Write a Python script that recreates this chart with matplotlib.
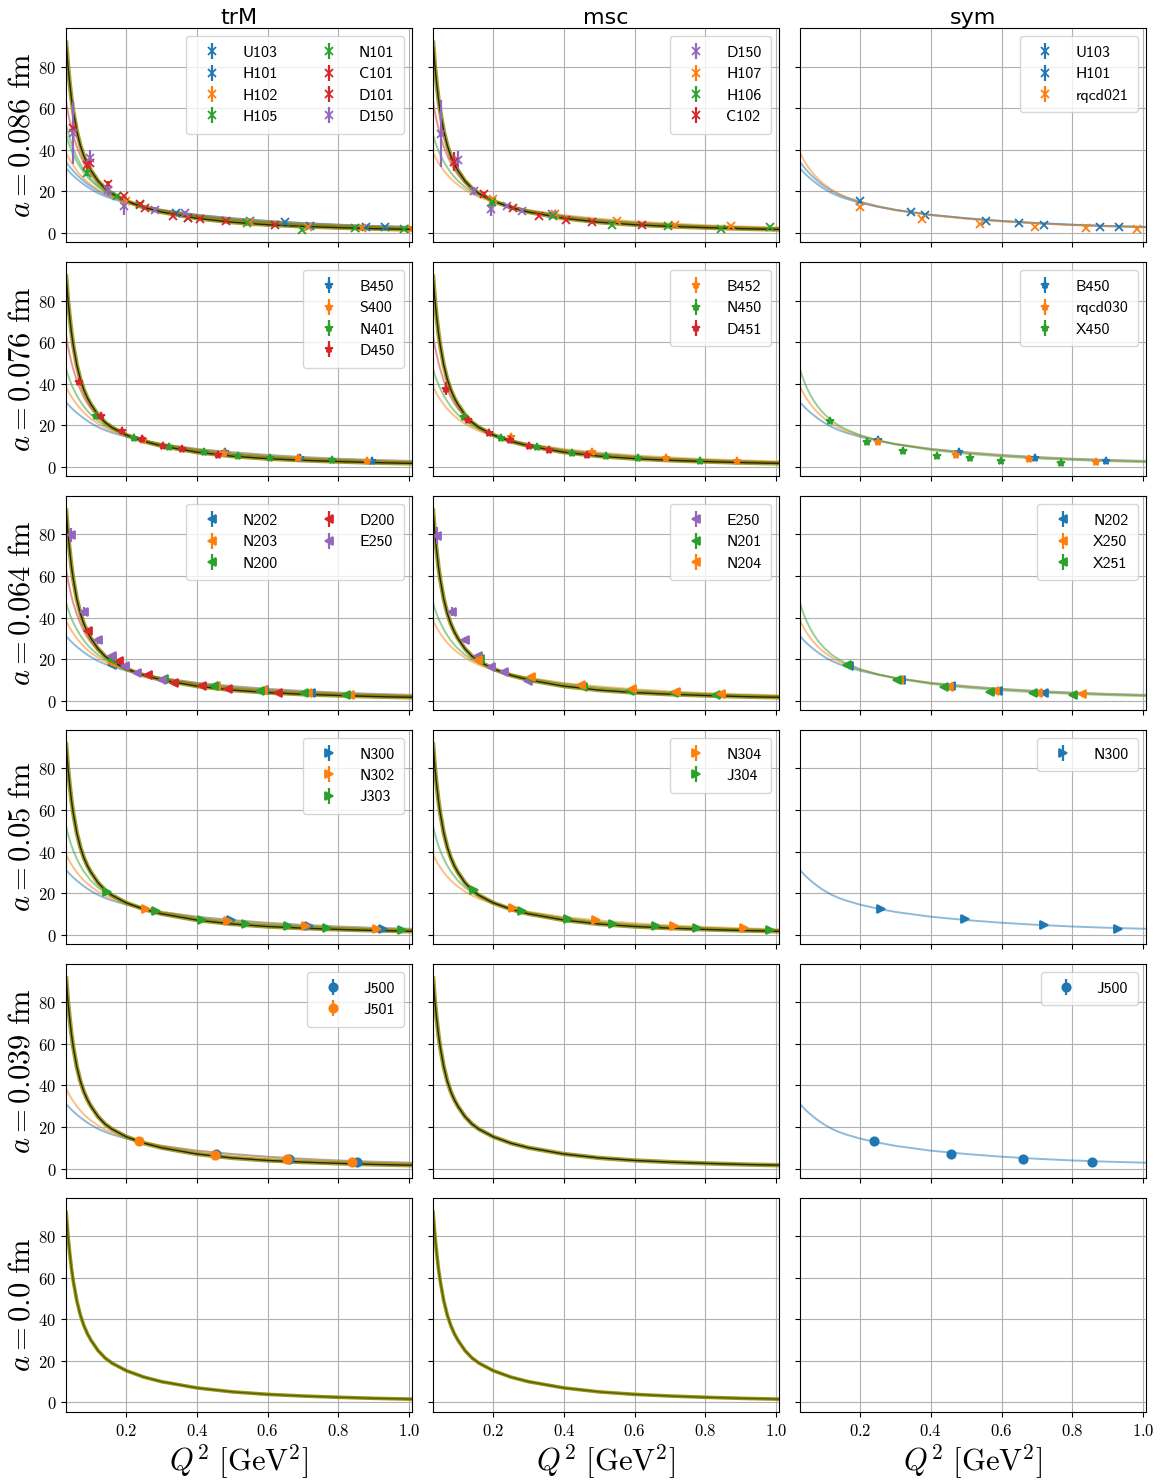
import numpy as np
import matplotlib.pyplot as plt
from matplotlib.ticker import FuncFormatter

plt.rcParams['mathtext.fontset'] = 'cm'

q2_grid = [0.03, 0.035, 0.04, 0.045, 0.05, 0.06, 0.07, 0.08, 0.09, 0.10, 0.12, 0.14, 0.16,
           0.20, 0.25, 0.30, 0.40, 0.50, 0.60, 0.70, 0.80, 0.90, 1.01]

# continuum curve (thick)
c_cont = [91.5, 80.5, 72, 64.5, 58.5, 49, 42.1, 37, 33.1, 30, 25, 21.4, 18.9,
          15.3, 12.2, 10.0, 7.0, 5.1, 3.9, 3.1, 2.5, 2.0, 1.6]
# per ensemble fit curves (thin)
c_b31 = [31, 30.1, 29.2, 28.3, 27.5, 26.0, 24.6, 23.3, 22.1, 21.0, 19.1, 17.6, 16.4,
         14.4, 12.5, 10.9, 8.6, 7.0, 5.7, 4.7, 3.9, 3.3, 2.8]
c_b34 = [34, 32.9, 31.8, 30.8, 29.8, 28.0, 26.4, 24.9, 23.5, 22.3, 20.2, 18.5, 17.1,
         14.9, 12.8, 11.1, 8.7, 7.0, 5.7, 4.7, 3.9, 3.3, 2.8]
c_o38 = [38.5, 36.8, 35.2, 33.7, 32.4, 30.0, 27.9, 26.1, 24.5, 23.1, 20.7, 18.8, 17.2,
         14.9, 12.7, 11.0, 8.5, 6.8, 5.5, 4.5, 3.7, 3.1, 2.6]
c_g46 = [47, 44.2, 41.8, 39.6, 37.7, 34.3, 31.5, 29.0, 26.9, 25.1, 22.1, 19.8, 18.0,
         15.2, 12.7, 10.8, 8.1, 6.3, 5.0, 4.0, 3.3, 2.7, 2.2]
c_g52 = [52, 48.5, 45.5, 42.8, 40.5, 36.5, 33.2, 30.4, 28.1, 26.0, 22.7, 20.2, 18.2,
         15.2, 12.6, 10.6, 7.9, 6.1, 4.8, 3.9, 3.2, 2.6, 2.1]
c_r63 = [63, 58, 54, 50.2, 47, 41.5, 37.2, 33.5, 30.5, 28.0, 24.0, 21.0, 18.7,
         15.4, 12.6, 10.5, 7.7, 5.9, 4.6, 3.7, 3.0, 2.5, 2.0]

spacings = ['0.086', '0.076', '0.064', '0.05', '0.039', '0.0']
actions = ['trM', 'msc', 'sym']
row_markers = ['x', '*', '<', '>', 'o', 'o']

B, O, G, R, P = 'tab:blue', 'tab:orange', 'tab:green', 'tab:red', 'tab:purple'

# ensembles: name, colour, Q^2, value, error
trm_086 = [
    ('U103', B, [0.341, 0.649, 0.932], [9.6, 5.1, 2.9], [0.5, 0.5, 0.4]),
    ('H101', B, [0.551, 0.72, 0.878], [5.6, 3.5, 2.9], [0.5, 0.5, 0.4]),
    ('H102', O, [0.2, 0.55, 0.715, 0.866, 1.007], [15.5, 5.2, 2.9, 2.4, 1.9], [1.0, 0.5, 0.5, 0.4, 0.4]),
    ('H105', G, [0.089, 0.173, 0.375, 0.54, 0.847], [29, 17.6, 7.2, 4.8, 2.4], [1.5, 0.8, 0.6, 0.5, 0.4]),
    ('N101', G, [0.238, 0.696, 0.984], [13.5, 1.6, 1.9], [0.6, 0.8, 0.4]),
    ('C101', R, [0.089, 0.147, 0.238, 0.375, 0.62], [32.8, 23.5, 14.1, 7.0, 4.0], [2.0, 1.5, 0.6, 0.5, 0.4]),
    ('D101', R, [0.049, 0.098, 0.194, 0.254, 0.332, 0.408, 0.483],
     [50.4, 33.6, 17.6, 12.0, 8.0, 6.9, 5.6], [3.0, 2.0, 0.8, 0.6, 0.5, 0.5, 0.4]),
    ('D150', P, [0.05, 0.097, 0.147, 0.194, 0.28, 0.365],
     [48, 36, 20.5, 12.8, 11.2, 9.4], [15, 4, 3, 4, 1, 1]),
]
msc_086 = [
    ('D150', P, [0.052, 0.1, 0.147, 0.195, 0.24, 0.282, 0.365],
     [47.8, 35, 20, 11.5, 12.8, 10.4, 9.1], [16, 4.5, 2, 3.5, 1, 1, 1]),
    ('H107', O, [0.2, 0.374, 0.551, 0.715, 0.873], [16.4, 9.1, 5.9, 4.0, 3.2], [0.8, 0.5, 0.5, 0.4, 0.4]),
    ('H106', G, [0.196, 0.37, 0.537, 0.693, 0.845, 0.984], [14.7, 8.3, 3.7, 3.4, 1.8, 2.6], [2, 0.6, 0.8, 0.5, 0.5, 0.4]),
    ('C102', R, [0.09, 0.175, 0.257, 0.33, 0.406, 0.48, 0.622],
     [34.3, 18.8, 12.0, 8.3, 6.4, 5.3, 4.0], [4.5, 0.8, 0.6, 0.5, 0.5, 0.4, 0.4]),
]
sym_086 = [
    ('U103', B, [0.344, 0.65, 0.932], [9.9, 4.8, 3.0], [0.5, 0.4, 0.4]),
    ('H101', B, [0.2, 0.384, 0.556, 0.721, 0.878], [15.2, 8.5, 5.6, 4.0, 3.0], [0.6, 0.5, 0.4, 0.4, 0.4]),
    ('rqcd021', O, [0.199, 0.374, 0.539, 0.695, 0.84, 0.982], [12.3, 6.7, 4.3, 2.9, 2.4, 1.9], [0.6, 0.5, 0.4, 0.4, 0.4, 0.4]),
]
trm_076 = [
    ('B450', B, [0.48, 0.692, 0.895], [7.2, 4.3, 3.0], [0.5, 0.4, 0.4]),
    ('S400', O, [0.246, 0.475, 0.685, 0.88], [13.1, 6.7, 4.0, 3.0], [0.6, 0.5, 0.4, 0.4]),
    ('N401', G, [0.114, 0.222, 0.322, 0.421, 0.516, 0.607, 0.782],
     [24.6, 13.9, 9.4, 7.2, 5.4, 4.3, 3.2], [0.8, 0.5, 0.4, 0.4, 0.4, 0.4, 0.4]),
    ('D450', R, [0.067, 0.128, 0.187, 0.245, 0.303, 0.358, 0.46],
     [40.8, 24.6, 17.1, 13.4, 10.2, 8.6, 5.9], [1.0, 0.8, 0.6, 0.5, 0.4, 0.4, 0.4]),
]
msc_076 = [
    ('B452', O, [0.25, 0.478, 0.688, 0.889], [14.4, 7.2, 4.2, 2.6], [0.8, 0.6, 0.4, 0.4]),
    ('N450', G, [0.116, 0.222, 0.323, 0.424, 0.519, 0.61, 0.786],
     [24.0, 13.9, 9.6, 6.7, 5.1, 4.2, 2.9], [0.8, 0.5, 0.4, 0.4, 0.4, 0.4, 0.4]),
    ('D451', R, [0.067, 0.128, 0.189, 0.247, 0.30, 0.357, 0.464],
     [37.6, 22.4, 16.3, 13.1, 9.9, 8.0, 5.6], [3.0, 1.0, 0.6, 0.5, 0.4, 0.4, 0.4]),
]
sym_076 = [
    ('B450', B, [0.251, 0.48, 0.694, 0.896], [12.8, 6.9, 4.3, 2.9], [0.8, 0.6, 0.4, 0.4]),
    ('rqcd030', O, [0.25, 0.471, 0.677, 0.868], [12.0, 5.9, 3.5, 2.4], [0.8, 0.5, 0.4, 0.4]),
    ('X450', G, [0.114, 0.22, 0.321, 0.418, 0.51, 0.599, 0.768],
     [21.9, 12.0, 7.8, 5.4, 4.0, 3.0, 1.6], [0.8, 0.5, 0.4, 0.4, 0.4, 0.4, 0.4]),
]
trm_064 = [
    ('N202', B, [0.159, 0.59, 0.722], [17.0, 5.0, 3.8], [0.8, 0.5, 0.4]),
    ('N203', O, [0.159, 0.455, 0.587, 0.713, 0.834], [18.0, 6.9, 5.0, 3.8, 2.9], [0.8, 0.5, 0.4, 0.4, 0.4]),
    ('N200', G, [0.159, 0.307, 0.447, 0.579, 0.702, 0.821], [19.4, 10.6, 6.9, 4.8, 3.7, 2.9], [0.8, 0.5, 0.4, 0.4, 0.4, 0.4]),
    ('D200', R, [0.093, 0.178, 0.26, 0.336, 0.414, 0.487, 0.628],
     [33.6, 18.9, 12.3, 8.5, 6.9, 5.8, 3.7], [1.0, 0.6, 0.5, 0.4, 0.4, 0.4, 0.4]),
    ('E250', P, [0.043, 0.081, 0.12, 0.159, 0.195, 0.23, 0.301],
     [79.7, 42.9, 29.0, 21.6, 16.5, 13.3, 9.8], [3.5, 2.0, 1.5, 1.0, 0.6, 0.5, 0.5]),
]
msc_064 = [
    ('E250', P, [0.042, 0.083, 0.12, 0.158, 0.194, 0.231, 0.299],
     [79.5, 42.9, 29.1, 21.6, 16.3, 13.6, 9.6], [4.0, 2.0, 1.5, 1.0, 0.6, 0.5, 0.5]),
    ('N201', G, [0.162, 0.304, 0.453, 0.586, 0.71, 0.831], [20.0, 10.7, 6.7, 4.8, 3.5, 2.9], [0.8, 0.5, 0.4, 0.4, 0.4, 0.4]),
    ('N204', O, [0.158, 0.307, 0.448, 0.591, 0.718, 0.843], [19.5, 11.2, 7.5, 5.6, 4.0, 3.2], [0.8, 0.5, 0.4, 0.4, 0.4, 0.4]),
]
sym_064 = [
    ('N202', B, [0.167, 0.315, 0.457, 0.591, 0.72], [16.6, 10.0, 6.9, 4.8, 3.8], [0.8, 0.5, 0.4, 0.4, 0.4]),
    ('X250', O, [0.31, 0.45, 0.581, 0.704, 0.828], [10.1, 6.7, 4.6, 3.8, 3.0], [0.5, 0.4, 0.4, 0.4, 0.4]),
    ('X251', G, [0.162, 0.303, 0.437, 0.567, 0.688, 0.803], [17.4, 9.8, 6.6, 4.3, 3.5, 2.7], [0.8, 0.5, 0.4, 0.4, 0.4, 0.4]),
]
trm_05 = [
    ('N300', B, [0.496, 0.716, 0.926], [6.8, 4.2, 2.7], [0.5, 0.4, 0.4]),
    ('N302', O, [0.256, 0.489, 0.709, 0.909], [12.5, 6.7, 4.0, 2.7], [0.6, 0.5, 0.4, 0.4]),
    ('J303', G, [0.145, 0.285, 0.414, 0.538, 0.656, 0.767, 0.979],
     [20.5, 11.2, 7.2, 5.1, 4.0, 3.0, 2.1], [0.6, 0.5, 0.4, 0.4, 0.4, 0.4, 0.4]),
]
msc_05 = [
    ('N304', O, [0.256, 0.49, 0.71, 0.91], [13.0, 7.0, 4.3, 3.0], [0.6, 0.5, 0.4, 0.4]),
    ('J304', G, [0.146, 0.282, 0.412, 0.54, 0.66, 0.775, 0.984],
     [21.6, 11.2, 7.4, 5.3, 4.0, 3.1, 2.2], [0.6, 0.5, 0.4, 0.4, 0.4, 0.4, 0.4]),
]
sym_05 = [
    ('N300', B, [0.259, 0.497, 0.72, 0.929], [12.5, 7.3, 4.4, 2.9], [0.5, 0.4, 0.4, 0.4]),
]
trm_039 = [
    ('J500', B, [0.455, 0.661, 0.853], [6.9, 4.7, 3.3], [0.4, 0.4, 0.4]),
    ('J501', O, [0.236, 0.451, 0.655, 0.839], [13.3, 6.6, 4.7, 3.3], [0.5, 0.4, 0.4, 0.4]),
]
sym_039 = [
    ('J500', B, [0.239, 0.457, 0.66, 0.855], [13.3, 7.1, 4.7, 3.3], [0.5, 0.4, 0.4, 0.4]),
]

points = [
    [trm_086, msc_086, sym_086],
    [trm_076, msc_076, sym_076],
    [trm_064, msc_064, sym_064],
    [trm_05, msc_05, sym_05],
    [trm_039, [], sym_039],
    [[], [], []],
]
thin_curves = [
    [[(c_b31, B), (c_b34, B), (c_o38, O), (c_g46, G), (c_g52, G), (c_r63, R)],
     [(c_o38, O), (c_g46, G), (c_r63, R)],
     [(c_b31, B), (c_b34, B), (c_o38, O)]],
    [[(c_b31, B), (c_o38, O), (c_g46, G), (c_r63, R)],
     [(c_o38, O), (c_g46, G), (c_r63, R)],
     [(c_b31, B), (c_o38, O), (c_g46, G)]],
    [[(c_b31, B), (c_o38, O), (c_g46, G), (c_r63, R)],
     [(c_o38, O), (c_g46, G)],
     [(c_b31, B), (c_o38, O), (c_g46, G)]],
    [[(c_b31, B), (c_o38, O), (c_g52, G)],
     [(c_o38, O), (c_g52, G)],
     [(c_b31, B)]],
    [[(c_b31, B), (c_o38, O)], [], [(c_b31, B)]],
    [[], [], []],
]
legend_cols = [[2, 1, 1], [1, 1, 1], [2, 1, 1], [1, 1, 1], [1, 1, 1], [1, 1, 1]]

fig, axes = plt.subplots(6, 3, figsize=(11.61, 14.83), dpi=100, sharex=True, sharey=True)
fig.subplots_adjust(left=0.057, right=0.987, top=0.981, bottom=0.048, wspace=0.061, hspace=0.093)

for r in range(6):
    for c in range(3):
        ax = axes[r, c]
        ax.grid(True, color='#b0b0b0', lw=0.8)
        ax.set_axisbelow(True)
        for curve, col in thin_curves[r][c]:
            ax.plot(q2_grid, curve, color=col, lw=1.4, alpha=0.5)
        if c < 2:
            if r < 5:
                ax.plot(q2_grid, c_cont, color='#8a8a00', lw=3.2, alpha=0.8)
                ax.plot(q2_grid, c_cont, color='#2b2200', lw=1.0)
            else:
                ax.plot(q2_grid, c_cont, color='#8a8a00', lw=2.6, alpha=0.9)
                ax.plot(q2_grid, c_cont, color='#5c5c00', lw=0.9)
        for name, col, q, y, e in points[r][c]:
            ax.errorbar(q, y, yerr=e, fmt=row_markers[r], color=col, ms=6, mew=1.3,
                        elinewidth=1.6, capsize=0, label=name)
        if points[r][c]:
            ax.legend(loc='upper right', ncol=legend_cols[r][c],
                      prop={'family': 'cmss10', 'size': 11.5},
                      handletextpad=0.9, columnspacing=2.2, borderpad=0.6,
                      labelspacing=0.45)
        if r == 0:
            ax.set_title(actions[c], fontsize=16, pad=3)
        if c == 0:
            ax.set_ylabel(r'$a = %s\ \mathrm{fm}$' % spacings[r], fontsize=22, labelpad=2)
        if r == 5:
            ax.set_xlabel(r'$Q^2\ [\mathrm{GeV}^2]$', fontsize=22, labelpad=2)

ax = axes[0, 0]
ax.set_xlim(0.03, 1.008)
ax.set_ylim(-4.5, 98.5)
ax.set_xticks([0.2, 0.4, 0.6, 0.8, 1.0])
ax.set_yticks([0, 20, 40, 60, 80])
ax.xaxis.set_major_formatter(FuncFormatter(lambda v, p: r'$%.1f$' % v))
ax.yaxis.set_major_formatter(FuncFormatter(lambda v, p: r'$%d$' % v))
for a in axes.flat:
    a.tick_params(labelsize=12)

plt.savefig('out.png', dpi=100)
